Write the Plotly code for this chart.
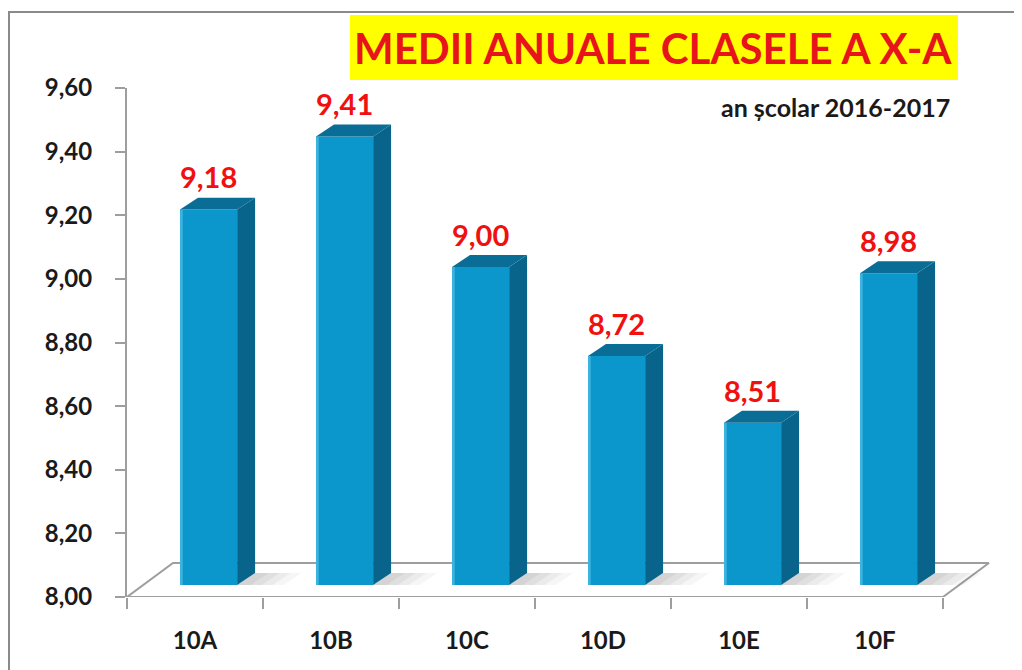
import plotly.graph_objects as go

# ---- data ----
categories = ["10A", "10B", "10C", "10D", "10E", "10F"]
values = [9.18, 9.41, 9.00, 8.72, 8.51, 8.98]
value_labels = ["9,18", "9,41", "9,00", "8,72", "8,51", "8,98"]
y_tickvals = [8.0, 8.2, 8.4, 8.6, 8.8, 9.0, 9.2, 9.4, 9.6]
y_ticktext = ["8,00", "8,20", "8,40", "8,60", "8,80", "9,00", "9,20", "9,40", "9,60"]
title_text = "MEDII ANUALE CLASELE A X-A"
subtitle_text = "an școlar 2016-2017"

# ---- style / geometry (pseudo 3D in data units) ----
Y0 = 8.0
X_RIGHT = 5.846
FLOOR_DX, FLOOR_DY = 0.338, 0.107
FRONT_DX, FRONT_DY = 0.10 - 0.21, 0.0377   # left edge offset of front face from category center
BAR_W = 0.42
DEPTH_DX, DEPTH_DY = 0.132, 0.0377
C_FRONT = "#0C97CC"
C_EDGE = "#3DB3DF"
C_SIDE = "#08648B"
C_TOP = "#0A6D96"
C_AXIS = "#9E9E9E"
FONT = "Lato"

fig = go.Figure()

# floor
n = len(categories)
fx = [-0.5, n - 0.5, n - 0.5 + FLOOR_DX, -0.5 + FLOOR_DX, -0.5]
fy = [Y0, Y0, Y0 + FLOOR_DY, Y0 + FLOOR_DY, Y0]
fig.add_trace(go.Scatter(x=fx, y=fy, mode="lines", fill="toself", fillcolor="white",
                         line=dict(color=C_AXIS, width=2), hoverinfo="skip", showlegend=False))

for i, v in enumerate(values):
    xl = i + FRONT_DX
    xr = xl + BAR_W
    yb = Y0 + FRONT_DY
    yt = v + FRONT_DY
    # soft shadow (layers)
    for ext, alpha in ((0.34, 0.05), (0.26, 0.06), (0.18, 0.07), (0.10, 0.07)):
        fig.add_trace(go.Scatter(
            x=[xr, xr + ext, xr + ext + DEPTH_DX, xr + DEPTH_DX, xr],
            y=[yb, yb, yb + DEPTH_DY, yb + DEPTH_DY, yb],
            mode="lines", fill="toself", fillcolor=f"rgba(70,70,70,{alpha})",
            line=dict(width=0), hoverinfo="skip", showlegend=False))
    # front
    fig.add_trace(go.Scatter(x=[xl, xr, xr, xl, xl], y=[yb, yb, yt, yt, yb],
                             mode="lines", fill="toself", fillcolor=C_FRONT,
                             line=dict(width=0), hoverinfo="skip", showlegend=False))
    # light left edge of the front face
    fig.add_trace(go.Scatter(x=[xl, xl + 0.02, xl + 0.02, xl, xl], y=[yb, yb, yt, yt, yb],
                             mode="lines", fill="toself", fillcolor=C_EDGE,
                             line=dict(width=0), hoverinfo="skip", showlegend=False))
    # side
    fig.add_trace(go.Scatter(x=[xr, xr + DEPTH_DX, xr + DEPTH_DX, xr, xr],
                             y=[yb, yb + DEPTH_DY, yt + DEPTH_DY, yt, yb],
                             mode="lines", fill="toself", fillcolor=C_SIDE,
                             line=dict(width=0), hoverinfo="skip", showlegend=False))
    # top
    fig.add_trace(go.Scatter(x=[xl, xr, xr + DEPTH_DX, xl + DEPTH_DX, xl],
                             y=[yt, yt, yt + DEPTH_DY, yt + DEPTH_DY, yt],
                             mode="lines", fill="toself", fillcolor=C_TOP,
                             line=dict(width=0), hoverinfo="skip", showlegend=False))

# value labels
fig.add_trace(go.Scatter(
    x=[i + FRONT_DX + BAR_W / 2 for i in range(n)],
    y=[v + FRONT_DY + DEPTH_DY + 0.006 for v in values],
    mode="text", text=value_labels, textposition="top center",
    textfont=dict(family=FONT, size=29, color="#F01010", weight="bold"),
    hoverinfo="skip", showlegend=False, cliponaxis=False))

# category axis (labels)
fig.add_trace(go.Scatter(x=list(range(n)), y=[Y0] * n, xaxis="x2", mode="markers",
                         marker=dict(opacity=0), hoverinfo="skip", showlegend=False))

# page has an 8px body margin: figure is 1014x662 placed at (8,8)
OFF = 8
W, H = 1022 - OFF, 670 - OFF
L, R, T, B = 127 - OFF, 32, 88 - OFF, 73
PW, PH = W - L - R, H - T - B

def px(xp):
    return (xp - OFF - L) / PW

def py(yp):
    return (H - B - (yp - OFF)) / PH

fig.update_layout(
    width=W, height=H,
    margin=dict(l=L, r=R, t=T, b=B, autoexpand=False),
    paper_bgcolor="white", plot_bgcolor="white",
    xaxis=dict(range=[-0.5, X_RIGHT], tickvals=[i - 0.5 for i in range(n + 1)],
               ticktext=[""] * (n + 1), ticks="outside", ticklen=11, tickwidth=2,
               tickcolor=C_AXIS, showgrid=False, zeroline=False, showline=False,
               automargin=False),
    xaxis2=dict(range=[-0.5, X_RIGHT], overlaying="x", side="bottom",
                tickvals=list(range(n)), ticktext=categories, ticks="",
                ticklabelstandoff=27, automargin=False,
                tickfont=dict(family=FONT, size=24, color="#1A1A1A", weight="bold"),
                showgrid=False, zeroline=False, showline=False),
    yaxis=dict(range=[Y0, 9.6], tickvals=y_tickvals, ticktext=y_ticktext,
               ticks="outside", ticklen=10, tickwidth=2, tickcolor=C_AXIS,
               showline=True, linecolor=C_AXIS, linewidth=2, showgrid=False,
               zeroline=False, ticklabelstandoff=18, automargin=False,
               tickfont=dict(family=FONT, size=24, color="#1A1A1A", weight="bold")),
    shapes=[
        dict(type="rect", xref="paper", yref="paper", x0=px(9), x1=px(1040),
             y0=py(700), y1=py(12), line=dict(color="#8A8A8A", width=2),
             fillcolor="rgba(0,0,0,0)", layer="below"),
        dict(type="rect", xref="paper", yref="paper", x0=px(350), x1=px(958),
             y0=py(80), y1=py(15), line=dict(width=0), fillcolor="#FFFF00"),
    ],
    annotations=[
        dict(text=title_text, xref="paper", yref="paper", x=px(653), y=py(48),
             xanchor="center", yanchor="middle", showarrow=False,
             font=dict(family=FONT, size=42, color="#E8141B", weight="bold")),
        dict(text=subtitle_text, xref="paper", yref="paper", x=px(952), y=py(107),
             xanchor="right", yanchor="middle", showarrow=False,
             font=dict(family=FONT, size=25, color="#1A1A1A", weight="bold")),
    ],
)

fig.write_html("out.html")
